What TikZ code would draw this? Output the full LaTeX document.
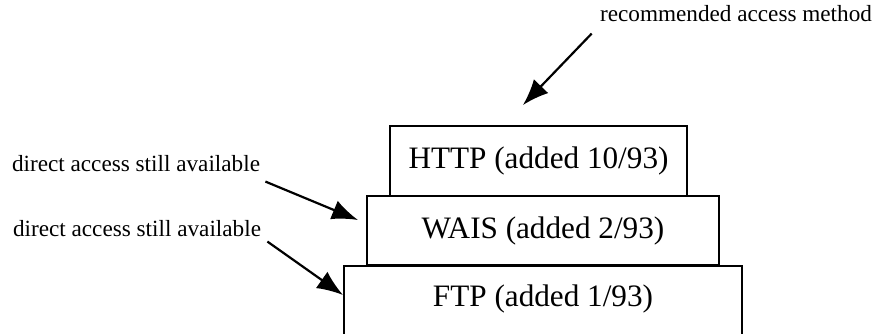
\documentclass[tikz,border=0pt]{standalone}
\usepackage{fontspec}
\setmainfont{Liberation Serif}
\usetikzlibrary{arrows.meta}

\begin{document}
\begin{tikzpicture}[x=0.5pt, y=-0.5pt,
  layer/.style = {draw, line width=1pt, inner sep=0pt, font=\fontsize{15.6}{18}\selectfont},
  note/.style = {inner sep=0pt, font=\fontsize{11.6}{13}\selectfont},
  pointer/.style = {line width=1.1pt, -{Latex[length=13pt, width=10pt]}}]
\useasboundingbox (0,0) rectangle (877,333);
\clip (0,0) rectangle (877,333);
% the three layers, newest on top
\node (ftp) [layer, minimum width=199pt, minimum height=45pt] at (543,311) {};
\node (ftplbl) [font=\fontsize{15.6}{18}\selectfont] at (543,299) {FTP (added 1/93)};
\node (wais) [layer, minimum width=176pt, minimum height=34.5pt] at (543,230.5) {WAIS (added 2/93)};
\node (http) [layer, minimum width=148.5pt, minimum height=35pt] at (538.5,161) {HTTP (added 10/93)};
% notes
\node (rec) [note] at (736,14) {recommended access method};
\node (dir1) [note] at (136,164) {direct access still available};
\node (dir2) [note] at (137,229) {direct access still available};
\coordinate (httpTip) at (523,105);
\coordinate (waisTip) at (358,220);
\coordinate (ftpTip) at (343,295);
\draw[pointer] ([shift={(-8,11)}]rec.south west) -- (httpTip);
\draw[pointer] ([shift={(5,9)}]dir1.south east) -- (waisTip);
\draw[pointer] ([shift={(6,4)}]dir2.south east) -- (ftpTip);
\end{tikzpicture}
\end{document}
